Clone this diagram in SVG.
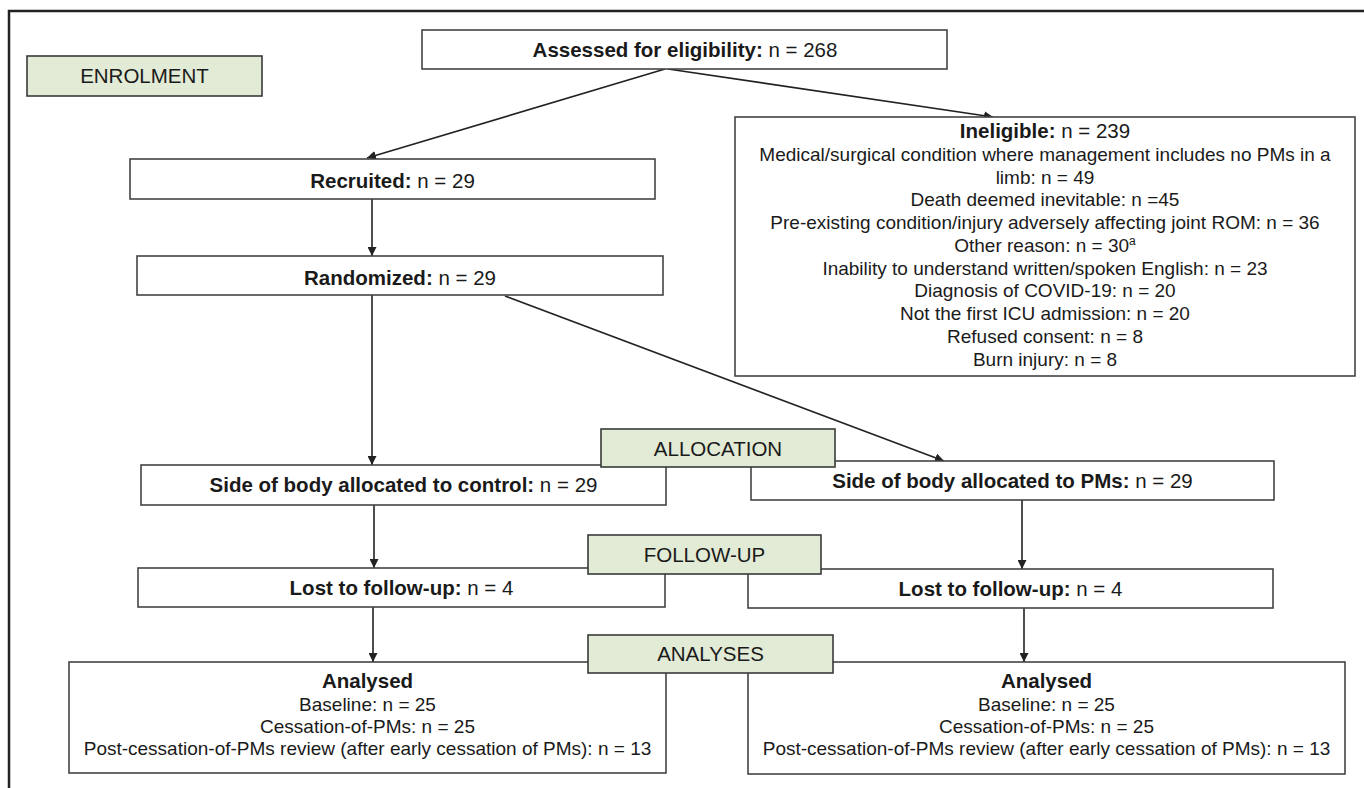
<svg xmlns="http://www.w3.org/2000/svg" width="1364" height="788" viewBox="0 0 1364 788">
<style>
.bg{fill:#ffffff}
.frame{fill:none;stroke:#222;stroke-width:2.5}
.box{fill:#ffffff;stroke:#444;stroke-width:1.6}
.lbl{fill:#e2ebd5;stroke:#3a3a3a;stroke-width:1.6}
.t{font-family:"Liberation Sans",Arial,sans-serif;fill:#1a1a1a;text-anchor:middle}
.big{font-size:20.5px}
.sm{font-size:19px}
.b{font-weight:bold}
.con{fill:none;stroke:#222;stroke-width:1.6}
</style>
<defs>
<marker id="ah" viewBox="0 0 10 10" refX="10" refY="5" markerWidth="9" markerHeight="9" markerUnits="userSpaceOnUse" orient="auto">
<path d="M0,0 L10,5 L0,10 z" fill="#222"/>
</marker>
</defs>
<rect class="bg" x="0" y="0" width="1364" height="788"/>
<path class="frame" d="M9,788 V11 H1364"/>

<g id="connectors">
<path class="con" d="M665,69 L367,158" marker-end="url(#ah)"/>
<path class="con" d="M668,69 L993,117" marker-end="url(#ah)"/>
<path class="con" d="M372,199 V256" marker-end="url(#ah)"/>
<path class="con" d="M372,295 V465" marker-end="url(#ah)"/>
<path class="con" d="M505,296 L944,461" marker-end="url(#ah)"/>
<path class="con" d="M374,505 V568" marker-end="url(#ah)"/>
<path class="con" d="M1022,500 V569" marker-end="url(#ah)"/>
<path class="con" d="M373,607 V662" marker-end="url(#ah)"/>
<path class="con" d="M1024,608 V662" marker-end="url(#ah)"/>
</g>

<g id="assessed">
<rect class="box" x="422" y="30" width="525" height="39"/>
<text class="t big" x="685" y="57"><tspan class="b">Assessed for eligibility:</tspan> n = 268</text>
</g>

<g id="ineligible">
<rect class="box" x="735" y="117" width="620" height="259"/>
<text class="t big" x="1045" y="138"><tspan class="b">Ineligible:</tspan> n = 239</text>
<text class="t sm" x="1045" y="161">Medical/surgical condition where management includes no PMs in a</text>
<text class="t sm" x="1045" y="184">limb: n = 49</text>
<text class="t sm" x="1045" y="206">Death deemed inevitable: n =45</text>
<text class="t sm" x="1045" y="229">Pre-existing condition/injury adversely affecting joint ROM: n = 36</text>
<text class="t sm" x="1045" y="252">Other reason: n = 30<tspan font-size="12" dy="-7">a</tspan></text>
<text class="t sm" x="1045" y="275">Inability to understand written/spoken English: n = 23</text>
<text class="t sm" x="1045" y="297">Diagnosis of COVID-19: n = 20</text>
<text class="t sm" x="1045" y="320">Not the first ICU admission: n = 20</text>
<text class="t sm" x="1045" y="343">Refused consent: n = 8</text>
<text class="t sm" x="1045" y="366">Burn injury: n = 8</text>
</g>

<g id="recruited">
<rect class="box" x="130" y="159" width="525" height="40"/>
<text class="t big" x="392.5" y="188"><tspan class="b">Recruited:</tspan> n = 29</text>
</g>

<g id="randomized">
<rect class="box" x="137" y="256" width="526" height="39"/>
<text class="t big" x="400" y="285"><tspan class="b">Randomized:</tspan> n = 29</text>
</g>

<g id="control">
<rect class="box" x="141" y="465" width="525" height="40"/>
<text class="t big" x="403.5" y="492"><tspan class="b">Side of body allocated to control:</tspan> n = 29</text>
</g>

<g id="pms">
<rect class="box" x="751" y="461" width="523" height="39"/>
<text class="t big" x="1012.5" y="488"><tspan class="b">Side of body allocated to PMs:</tspan> n = 29</text>
</g>

<g id="lost-left">
<rect class="box" x="138" y="568" width="527" height="39"/>
<text class="t big" x="401.5" y="595"><tspan class="b">Lost to follow-up:</tspan> n = 4</text>
</g>

<g id="lost-right">
<rect class="box" x="748" y="569" width="525" height="39"/>
<text class="t big" x="1010.5" y="596"><tspan class="b">Lost to follow-up:</tspan> n = 4</text>
</g>

<g id="analysed-left">
<rect class="box" x="69" y="662" width="597" height="111"/>
<text class="t big b" x="367.5" y="688">Analysed</text>
<text class="t sm" x="367.5" y="711">Baseline: n = 25</text>
<text class="t sm" x="367.5" y="733">Cessation-of-PMs: n = 25</text>
<text class="t sm" x="367.5" y="755">Post-cessation-of-PMs review (after early cessation of PMs): n = 13</text>
</g>

<g id="analysed-right">
<rect class="box" x="748" y="662" width="597" height="112"/>
<text class="t big b" x="1046.5" y="688">Analysed</text>
<text class="t sm" x="1046.5" y="711">Baseline: n = 25</text>
<text class="t sm" x="1046.5" y="733">Cessation-of-PMs: n = 25</text>
<text class="t sm" x="1046.5" y="755">Post-cessation-of-PMs review (after early cessation of PMs): n = 13</text>
</g>

<g id="enrolment">
<rect class="lbl" x="27" y="56" width="235" height="40"/>
<text class="t big" x="144.5" y="83">ENROLMENT</text>
</g>

<g id="allocation">
<rect class="lbl" x="601" y="429" width="234" height="38"/>
<text class="t big" x="718" y="456">ALLOCATION</text>
</g>

<g id="follow-up">
<rect class="lbl" x="588" y="535" width="233" height="39"/>
<text class="t big" x="704.5" y="562">FOLLOW-UP</text>
</g>

<g id="analyses">
<rect class="lbl" x="588" y="635" width="245" height="38"/>
<text class="t big" x="710.5" y="661">ANALYSES</text>
</g>
</svg>
